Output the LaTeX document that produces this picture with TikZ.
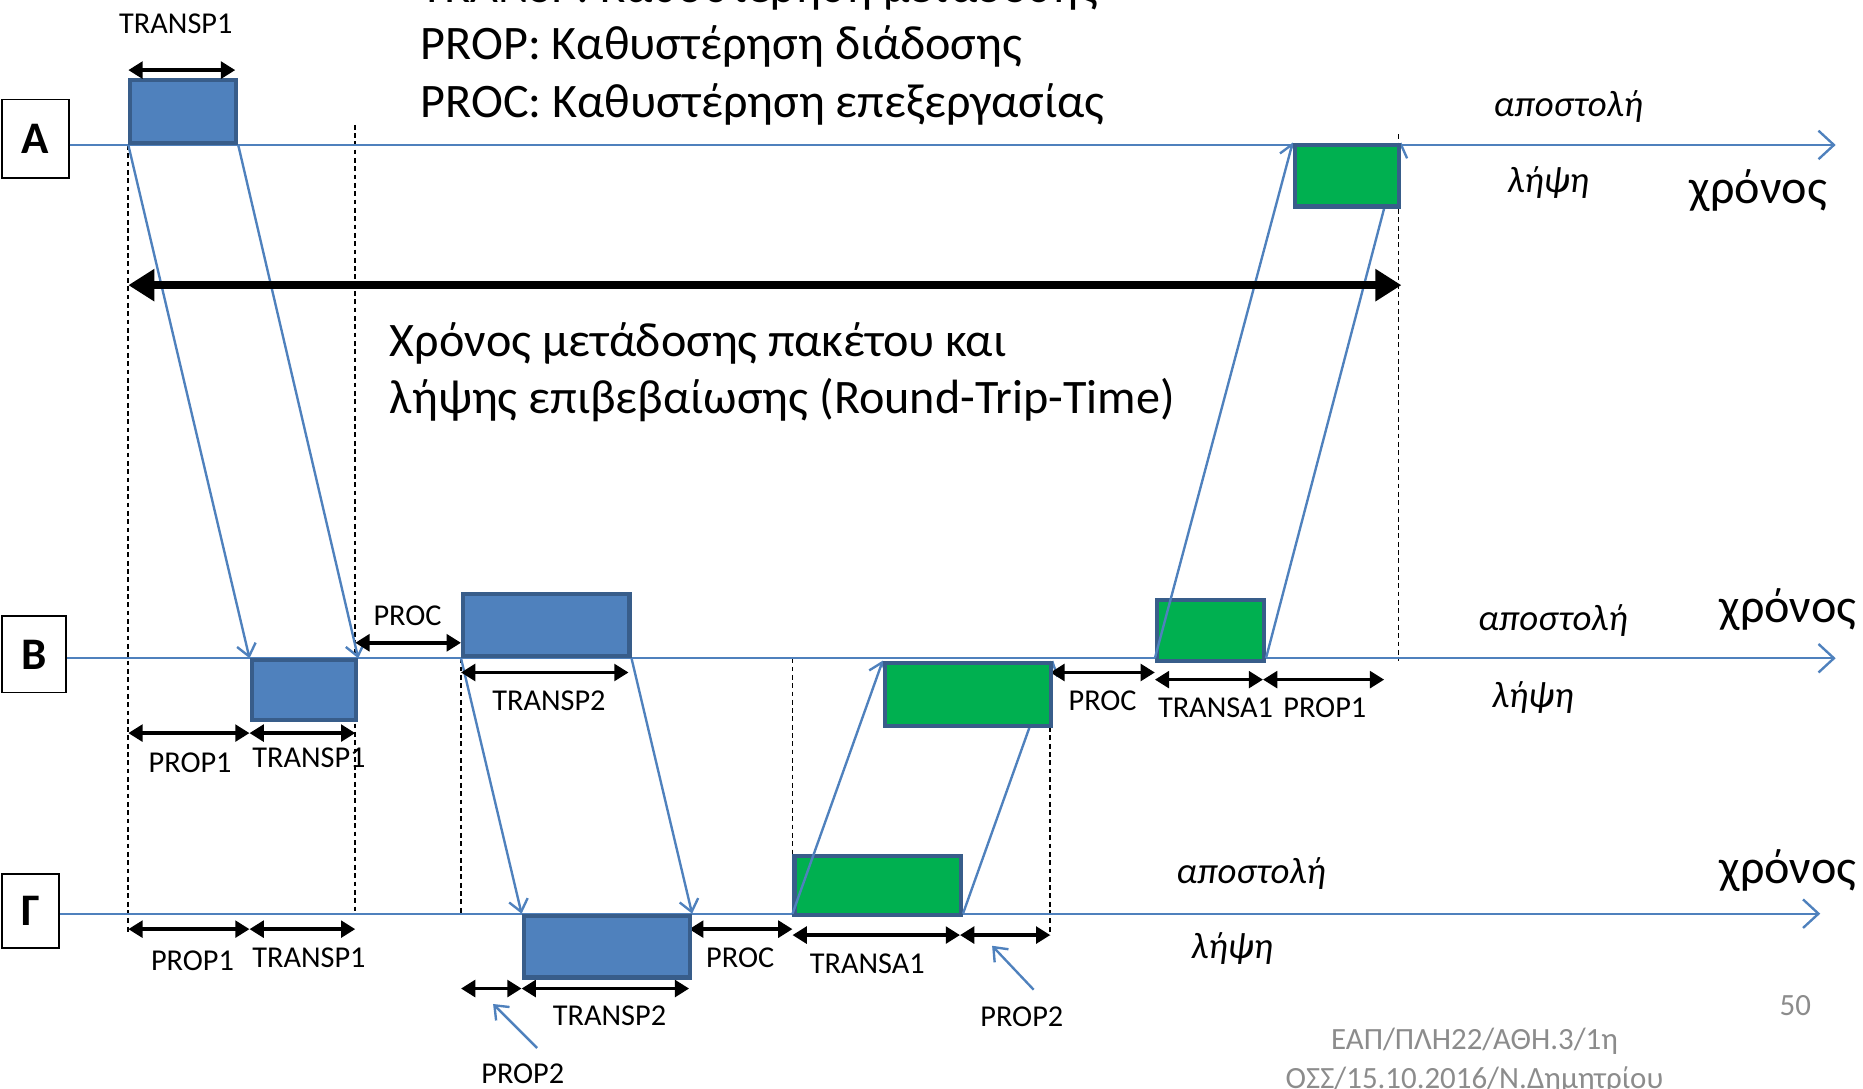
\documentclass[tikz,border=0pt]{standalone}
\usepackage{fontspec}
\setmainfont{Carlito}
\usetikzlibrary{arrows.meta}
\definecolor{lineblue}{HTML}{4F81BD}
\definecolor{pktedge}{HTML}{385D8A}
\definecolor{ackgreen}{HTML}{00B050}
\definecolor{footgray}{HTML}{8C8C8C}
\tikzset{>=latex}
\pgfdeclarelayer{front}
\pgfsetlayers{main,front}
\tikzstyle{pkt}=[draw=pktedge,fill=lineblue,line width=3.5,inner sep=0,rectangle]
\tikzstyle{ack}=[pkt,fill=ackgreen]
\tikzstyle{sig}=[lineblue,line width=2,-{Straight Barb[length=10pt,width=16pt]}]
\tikzstyle{taxis}=[lineblue,line width=2,-{Straight Barb[length=13pt,width=24pt]}]
\tikzstyle{guide}=[black,line width=1.4,dash pattern=on 4pt off 3pt]
\tikzstyle{dimarr}=[black,line width=3,{Triangle[length=12pt,width=14pt]}-{Triangle[length=12pt,width=14pt]}]
\tikzstyle{rtt}=[black,line width=6.5,{Triangle[length=22pt,width=26pt]}-{Triangle[length=22pt,width=26pt]}]
\tikzstyle{station}=[draw=black,line width=1.5,fill=white,inner sep=0,
                     font=\bfseries\fontsize{38}{44}\selectfont]
\tikzstyle{big}=[inner sep=0,font=\fontsize{40.5}{48}\selectfont]
\tikzstyle{tlbl}=[inner sep=0,font=\itshape\fontsize{31}{36}\selectfont]
\tikzstyle{lbl}=[inner sep=0,font=\fontsize{25.5}{30}\selectfont]
\tikzstyle{foot}=[inner sep=0,footgray,font=\fontsize{26}{30}\selectfont]

\begin{document}
\begin{tikzpicture}[x=1pt,y=-1pt]
  \useasboundingbox (0,0) rectangle (1568,916);

  % HEADER TEXT
  \node[big,anchor=base west] (hTransp) at (354,2) {TRANSP: Καθυστέρηση μετάδοσης};
  \node[big,anchor=base west] (hProp) at (354,50) {PROP: Καθυστέρηση διάδοσης};
  \node[big,anchor=base west] (hProc) at (354,99) {PROC: Καθυστέρηση επεξεργασίας};
  \node[big,anchor=base west] (rttA) at (328,300) {Χρόνος μετάδοσης πακέτου και};
  \node[big,anchor=base west] (rttB) at (328,348) {λήψης επιβεβαίωσης (Round-Trip-Time)};

  % STATIONS
  \node[station,anchor=north west,minimum width=56,minimum height=66] (stA) at (1,83) {A};
  \node[station,anchor=north west,minimum width=54,minimum height=64] (stB) at (1,518) {B};
  \node[station,anchor=north west,minimum width=48,minimum height=62] (stG) at (1,735) {Γ};

  % GUIDE LINES
  \foreach \x/\ya/\yb in {108/122/785,299/105/769,388/554/769,
                          667/554/769,884/556/787,1177/113/556}
    \draw[guide] (\x,\ya) -- (\x,\yb);

  % TIME AXES
  \coordinate (endA) at (1545,122);
  \coordinate (endB) at (1545,554);
  \coordinate (endG) at (1532,769);
  \draw[taxis] (stA.east |- endA) -- (endA);
  \draw[taxis] (stB.east |- endB) -- (endB);
  \draw[taxis] (stG.east |- endG) -- (endG);

  \node[tlbl] (sendA) at (1320,90) {αποστολή};
  \node[tlbl] (recvA) at (1303,154) {λήψη};
  \node[big] (timeA) at (1480,160) {χρόνος};
  \node[tlbl] (sendB) at (1307,522) {αποστολή};
  \node[tlbl] (recvB) at (1290,587) {λήψη};
  \node[big] (timeB) at (1505,513) {χρόνος};
  \node[tlbl] (sendG) at (1053,735) {αποστολή};
  \node[tlbl] (recvG) at (1037,798) {λήψη};
  \node[big] (timeG) at (1505,733) {χρόνος};

  % RECEIVED PACKETS (on top of the signal lines)
  \begin{pgfonlayer}{front}
    \node[pkt,anchor=north west,minimum width=88,minimum height=50] (pB1) at (210,554) {};
    \node[pkt,anchor=north west,minimum width=140,minimum height=52] (pG) at (439,769) {};
    \node[ack,anchor=north west,minimum width=140,minimum height=53] (aB1) at (743,556) {};
    \node[ack,anchor=north west,minimum width=88,minimum height=52] (aA) at (1088,120) {};
  \end{pgfonlayer}

  % SENT PACKETS
  \node[pkt,anchor=south west,minimum width=89,minimum height=53] (pA) at (108,122) {};
  \node[pkt,anchor=south west,minimum width=140,minimum height=52] (pB2) at (388,554) {};
  \node[ack,anchor=south west,minimum width=140,minimum height=50] (aG) at (667,772) {};
  \node[ack,anchor=south west,minimum width=90,minimum height=51] (aB2) at (972,558) {};

  % SIGNAL LINES
  \draw[sig] (pA.south west) -- (pB1.north west);
  \draw[sig] (pA.south east) -- (pB1.north east);
  \draw[sig] (pB2.south west) -- (pG.north west);
  \draw[sig] (pB2.south east) -- (pG.north east);
  \draw[sig] (aG.south west |- endG) -- (aB1.north west);
  \draw[sig] (aG.south east |- endG) -- (aB1.north east);
  \draw[sig] (aB2.south west |- endB) -- (aA.north west);
  \draw[sig] (aB2.south east |- endB) -- (aA.north east);

  % ROUND TRIP TIME
  \draw[rtt] (pA.south west |- 0,240) -- (aA.north east |- 0,240);

  % DELAY MARKS
  \foreach \xa/\xb/\y in {108/198/59,299/388/541,108/210/617,210/299/617,
                          388/529/566,884/972/566,972/1063/572,1063/1165/572,
                          108/210/782,210/299/782,580/667/782,388/439/832,
                          439/580/832,667/808/787,808/884/787}
    \draw[dimarr] (\xa,\y) -- (\xb,\y);

  \foreach \n/\x/\y/\t in {lTranspA/148/20/TRANSP1,lProcB/343/518/PROC,
                           lPropB/160/642/PROP1,lTranspB/260/638/TRANSP1,
                           lTranspBb/462/590/TRANSP2,lProcBb/928/590/PROC,
                           lTransaB/1023/596/TRANSA1,lPropBb/1115/596/PROP1,
                           lPropG/162/809/PROP1,lTranspG/260/806/TRANSP1,
                           lProcG/623/806/PROC,lTransaG/730/811/TRANSA1,
                           lTranspGb/513/855/TRANSP2,lPropGa/440/904/PROP2,
                           lPropGb/860/856/PROP2}
    \node[lbl] (\n) at (\x,\y) {\t};

  % POINTERS TO PROP2
  \coordinate (ptrA) at (452,882);
  \coordinate (ptrB) at (870,833);
  \draw[sig] (ptrA) -- ++(-37,-37);
  \draw[sig] (ptrB) -- ++(-35,-37);

  % FOOTER
  \node[foot] (pgNum) at (1511,846) {50};
  \node[foot] (footA) at (1241,876) {ΕΑΠ/ΠΛΗ22/ΑΘΗ.3/1η};
  \node[foot] (footB) at (1241,909) {ΟΣΣ/15.10.2016/Ν.Δημητρίου};
\end{tikzpicture}
\end{document}
